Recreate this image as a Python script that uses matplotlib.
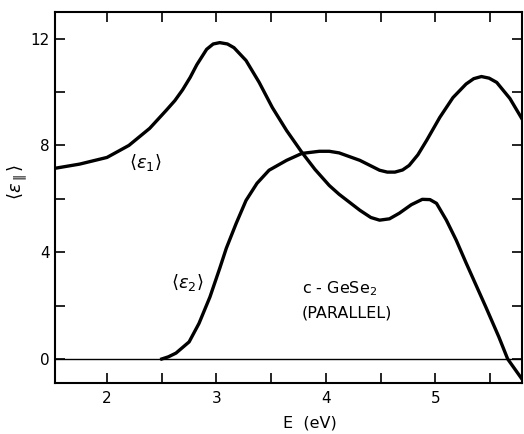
import numpy as np
import matplotlib
matplotlib.use('Agg')
import matplotlib.pyplot as plt

# <eps1> (E in eV)
e1_E = [1.52, 1.75, 2.0, 2.2, 2.39, 2.54, 2.62, 2.69, 2.76, 2.82, 2.91, 2.97,
        3.03, 3.1, 3.16, 3.27, 3.39, 3.51, 3.64, 3.78, 3.9, 4.03, 4.12, 4.31,
        4.41, 4.49, 4.58, 4.67, 4.78, 4.88, 4.95, 5.01, 5.1, 5.19, 5.28,
        5.46, 5.58, 5.66, 5.79]
e1_val = [7.14, 7.3, 7.55, 8.0, 8.64, 9.31, 9.68, 10.08, 10.55, 11.02, 11.6,
          11.8, 11.85, 11.8, 11.66, 11.18, 10.36, 9.42, 8.56, 7.74, 7.1, 6.5,
          6.17, 5.57, 5.3, 5.2, 5.25, 5.46, 5.78, 5.98, 5.97, 5.83, 5.2, 4.45,
          3.6, 1.95, 0.82, 0.0, -0.75]

# <eps2>
e2_E = [2.5, 2.56, 2.63, 2.75, 2.84, 2.94, 3.03, 3.09, 3.18, 3.27, 3.37,
        3.48, 3.64, 3.78, 3.94, 4.03, 4.12, 4.31, 4.49, 4.56, 4.63, 4.7,
        4.76, 4.84, 4.92, 5.04, 5.16, 5.28, 5.35, 5.42, 5.49, 5.56, 5.68,
        5.79]
e2_val = [0.0, 0.08, 0.22, 0.64, 1.33, 2.32, 3.4, 4.15, 5.08, 5.94, 6.58,
          7.07, 7.44, 7.7, 7.78, 7.78, 7.72, 7.44, 7.07, 7.0, 7.0, 7.08,
          7.25, 7.65, 8.19, 9.05, 9.79, 10.3, 10.5, 10.58, 10.52, 10.36, 9.76,
          9.0]

x_ticks = [2, 3, 4, 5]
y_ticks = [0, 4, 8, 12]

fig = plt.figure(figsize=(5.24, 4.34), dpi=100)
ax = fig.add_axes([0.105, 0.1175, 0.891, 0.855])

ax.plot(e1_E, e1_val, color='black', lw=2.4, solid_joinstyle='round')
ax.plot(e2_E, e2_val, color='black', lw=2.4, solid_joinstyle='round')
ax.axhline(0, color='black', lw=1.0)

ax.set_xlim(1.525, 5.79)
ax.set_ylim(-0.9, 13.0)
ax.set_xticks(x_ticks)
ax.set_xticks([2.5, 3.5, 4.5, 5.5], minor=True)
ax.set_yticks(y_ticks)
ax.set_yticks([2, 6, 10], minor=True)
ax.tick_params(which='both', direction='in', length=7, width=1.2,
               top=True, right=True, labelsize=11)
ax.tick_params(axis='y', pad=4)
ax.tick_params(axis='x', pad=6)
for s in ax.spines.values():
    s.set_linewidth(1.5)

ax.text(2.35, 7.36, r'$\langle\epsilon_1\rangle$', fontsize=13, ha='center', va='center')
ax.text(2.73, 2.88, r'$\langle\epsilon_2\rangle$', fontsize=13, ha='center', va='center')
ax.text(4.12, 2.62, r'c - GeSe$_2$', fontsize=11.5, ha='center', va='center')
ax.text(4.19, 1.72, '(PARALLEL)', fontsize=11.5, ha='center', va='center')

fig.text(0.592, 0.025, 'E  (eV)', fontsize=11.5, ha='center', va='center')
fig.text(0.033, 0.58, r'$\langle\epsilon_{\parallel}\rangle$', fontsize=13,
         rotation=90, ha='center', va='center')

fig.savefig('out.png', dpi=100)
